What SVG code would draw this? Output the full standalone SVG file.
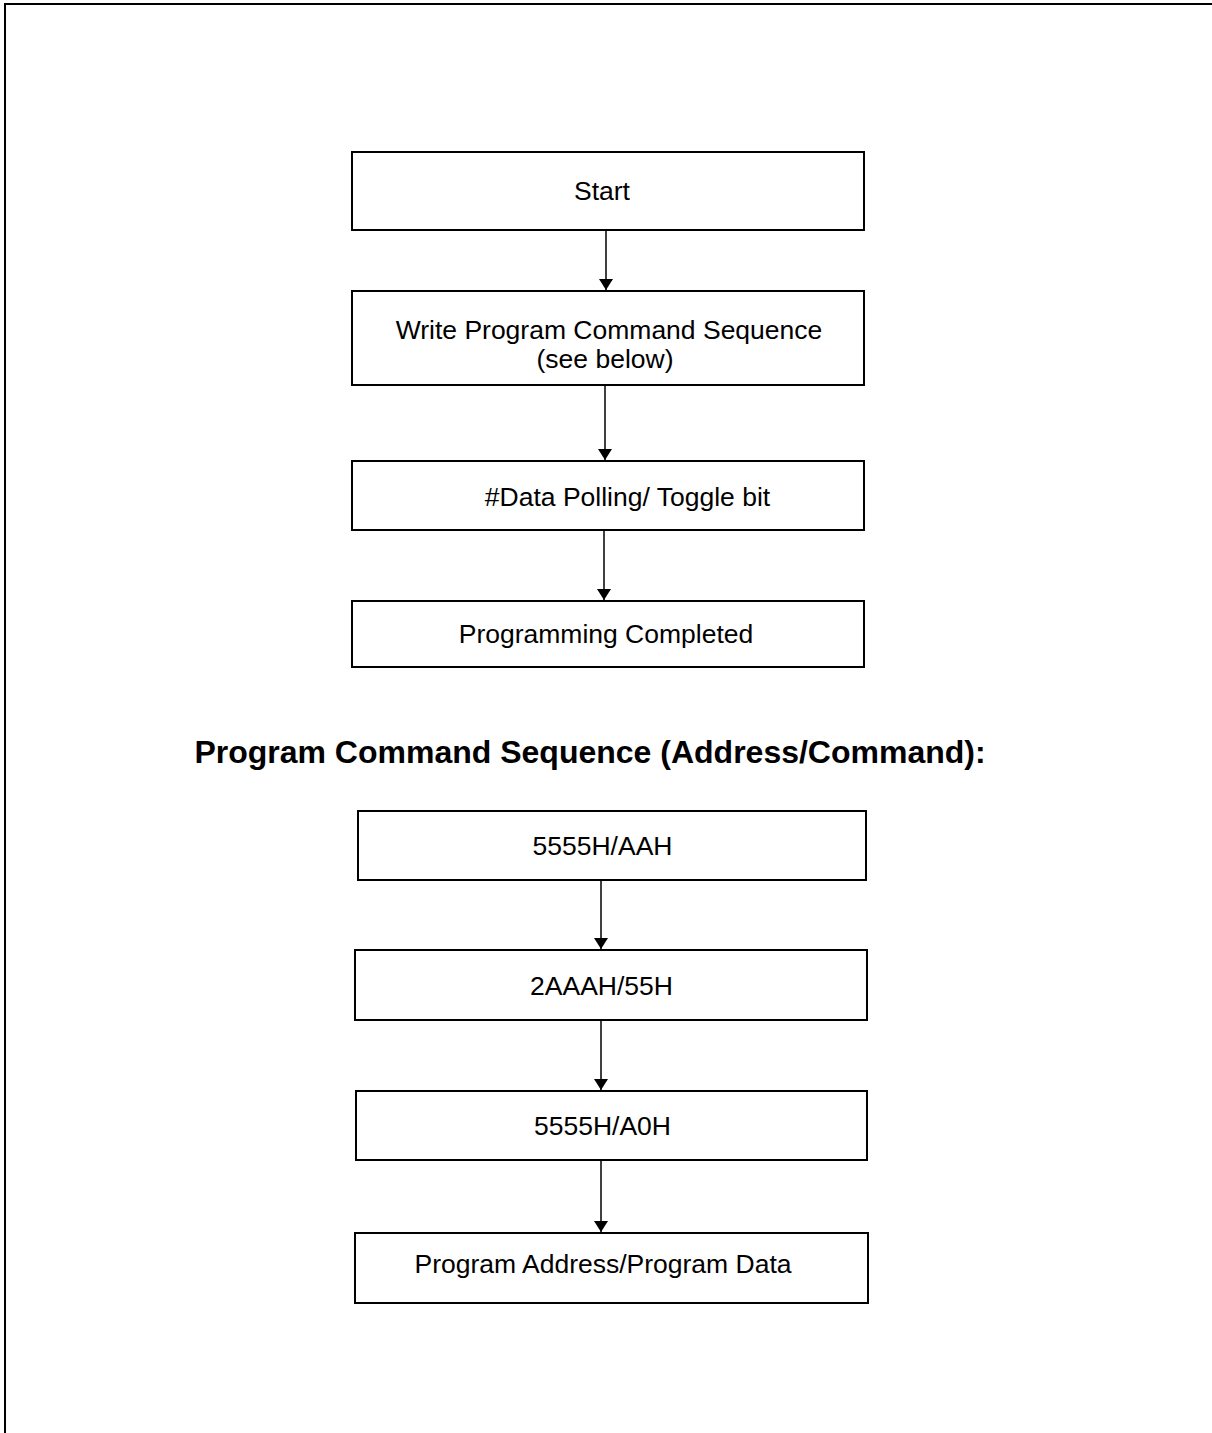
<svg xmlns="http://www.w3.org/2000/svg" width="1212" height="1433" viewBox="0 0 1212 1433">
<defs>
<style>
.box{fill:#fff;stroke:#000;stroke-width:2}
.t{font-family:"Liberation Sans",Arial,sans-serif;font-size:26.5px;fill:#000;text-anchor:middle}
.title{font-family:"Liberation Sans",Arial,sans-serif;font-size:32px;font-weight:bold;fill:#000;text-anchor:middle}
.c{stroke:#000;stroke-width:1.5;fill:none;marker-end:url(#arr)}
.frame{stroke:#000;stroke-width:2;fill:none}
</style>
<marker id="arr" markerWidth="11" markerHeight="14" refX="11" refY="7" orient="auto" markerUnits="userSpaceOnUse">
<path d="M0,0 L11,7 L0,14 Z" fill="#000"/>
</marker>
</defs>
<rect width="1212" height="1433" fill="#fff"/>
<path class="frame" d="M5,1433 V4 H1212"/>
<g id="n-start"><rect class="box" x="352" y="152" width="512" height="78"/><text class="t" x="602" y="200">Start</text></g>
<g id="n-write"><rect class="box" x="352" y="291" width="512" height="94"/><text class="t" x="609" y="339">Write Program Command Sequence</text><text class="t" x="605" y="368">(see below)</text></g>
<g id="n-poll"><rect class="box" x="352" y="461" width="512" height="69"/><text class="t" x="627.5" y="506">#Data Polling/ Toggle bit</text></g>
<g id="n-done"><rect class="box" x="352" y="601" width="512" height="66"/><text class="t" x="606" y="643">Programming Completed</text></g>
<g id="title"><text class="title" x="590" y="763">Program Command Sequence (Address/Command):</text></g>
<g id="n-s1"><rect class="box" x="358" y="811" width="508" height="69"/><text class="t" x="602.5" y="855">5555H/AAH</text></g>
<g id="n-s2"><rect class="box" x="355" y="950" width="512" height="70"/><text class="t" x="601.5" y="995">2AAAH/55H</text></g>
<g id="n-s3"><rect class="box" x="356" y="1091" width="511" height="69"/><text class="t" x="602.5" y="1135">5555H/A0H</text></g>
<g id="n-s4"><rect class="box" x="355" y="1233" width="513" height="70"/><text class="t" x="603" y="1273">Program Address/Program Data</text></g>
<g id="connectors">
<line class="c" x1="606" y1="231" x2="606" y2="290"/>
<line class="c" x1="605" y1="386" x2="605" y2="460"/>
<line class="c" x1="604" y1="531" x2="604" y2="600"/>
<line class="c" x1="601" y1="881" x2="601" y2="949"/>
<line class="c" x1="601" y1="1021" x2="601" y2="1090"/>
<line class="c" x1="601" y1="1161" x2="601" y2="1232"/>
</g>
</svg>
